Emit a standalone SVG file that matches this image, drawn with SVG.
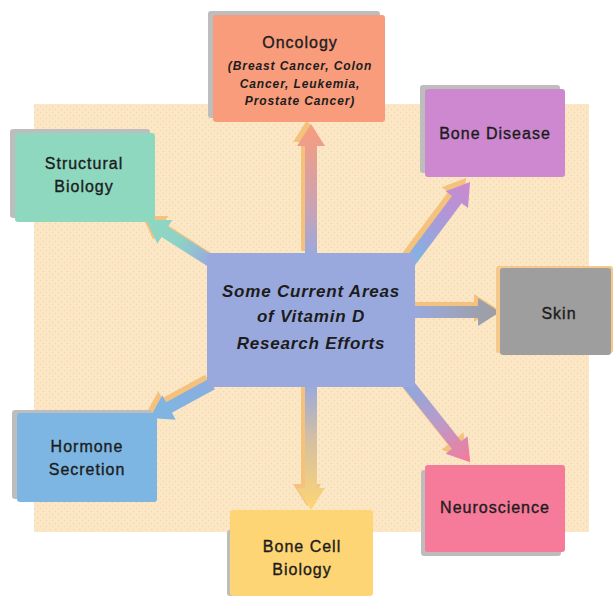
<svg xmlns="http://www.w3.org/2000/svg" width="613" height="598" viewBox="0 0 613 598">
<style>
.lbl{font-family:"Liberation Sans",Arial,sans-serif;font-size:16px;letter-spacing:1px;fill:#1c1c1c;stroke:#1c1c1c;stroke-width:0.35;text-anchor:middle}
.sub{font-family:"Liberation Sans",Arial,sans-serif;font-size:12px;font-weight:bold;font-style:italic;letter-spacing:0.9px;fill:#1c1c1c;text-anchor:middle}
.ctr{font-family:"Liberation Sans",Arial,sans-serif;font-size:17px;font-weight:bold;font-style:italic;letter-spacing:0.8px;fill:#1c1c1c;text-anchor:middle}
.sh{fill:#bdbdbd}
.ash{fill:#f4c27c}
</style>
<defs>
<pattern id="dots" width="6" height="6" patternUnits="userSpaceOnUse">
<rect width="6" height="6" fill="#fce7c5"/>
<circle cx="1.5" cy="1.5" r="0.7" fill="#f4d0bb"/>
<circle cx="4.5" cy="4.5" r="0.7" fill="#f4d3b5"/>
</pattern>
<linearGradient id="gOnc" x1="0" y1="0" x2="1" y2="0"><stop offset="0" stop-color="#9aa9dd"/><stop offset="0.35" stop-color="#c8a3b5"/><stop offset="1" stop-color="#f99c7c"/></linearGradient>
<linearGradient id="gStr" x1="0" y1="0" x2="1" y2="0"><stop offset="0" stop-color="#9aa9dd"/><stop offset="0.5" stop-color="#8ed2c6"/><stop offset="1" stop-color="#8ed8c0"/></linearGradient>
<linearGradient id="gBD" x1="0" y1="0" x2="1" y2="0"><stop offset="0" stop-color="#7db6e2"/><stop offset="0.5" stop-color="#a99ad8"/><stop offset="1" stop-color="#cd88cf"/></linearGradient>
<linearGradient id="gSkin" x1="0" y1="0" x2="1" y2="0"><stop offset="0" stop-color="#9aa9dd"/><stop offset="1" stop-color="#9e9e9e"/></linearGradient>
<linearGradient id="gNeu" x1="0" y1="0" x2="1" y2="0"><stop offset="0" stop-color="#8aa9df"/><stop offset="0.5" stop-color="#b79ccb"/><stop offset="1" stop-color="#f67a99"/></linearGradient>
<linearGradient id="gBC" x1="0" y1="0" x2="1" y2="0"><stop offset="0" stop-color="#9aa9dd"/><stop offset="0.45" stop-color="#d6c0a0"/><stop offset="1" stop-color="#fed574"/></linearGradient>
<linearGradient id="gHor" x1="0" y1="0" x2="1" y2="0"><stop offset="0" stop-color="#8aaee0"/><stop offset="1" stop-color="#7db6e2"/></linearGradient>
</defs>

<rect x="34" y="104" width="555" height="428" fill="url(#dots)"/>

<g id="connectors">
<g id="arrow-shadows">
<polygon class="ash" transform="translate(307,251) rotate(-90)" points="0,-6 109,-6 109,-14 131,0 109,14 109,6 0,6"/>
<polygon class="ash" transform="translate(208,258) rotate(212.5)" points="0,-6 56,-6 56,-14 78,0 56,14 56,6 0,6"/>
<polygon class="ash" transform="translate(406,258) rotate(-53.1)" points="0,-6 78,-6 78,-14 100,0 78,14 78,6 0,6"/>
<polygon class="ash" transform="translate(411,308) rotate(0)" points="0,-6 63,-6 63,-14 85,0 63,14 63,6 0,6"/>
<polygon class="ash" transform="translate(401,376) rotate(51.6)" points="0,-6 83,-6 83,-14 105,0 83,14 83,6 0,6"/>
<polygon class="ash" transform="translate(307,381) rotate(90)" points="0,-6 103,-6 103,-14 125,0 103,14 103,6 0,6"/>
<polygon class="ash" transform="translate(208,380) rotate(151.3)" points="0,-6 49,-6 49,-14 71,0 49,14 49,6 0,6"/>
</g>
<polygon fill="url(#gOnc)" transform="translate(311,255) rotate(-90)" points="0,-6 109,-6 109,-14 131,0 109,14 109,6 0,6"/>
<polygon fill="url(#gStr)" transform="translate(212,262) rotate(212.5)" points="0,-6 56,-6 56,-14 78,0 56,14 56,6 0,6"/>
<polygon fill="url(#gBD)" transform="translate(410,262) rotate(-53.1)" points="0,-6 78,-6 78,-14 100,0 78,14 78,6 0,6"/>
<polygon fill="url(#gSkin)" transform="translate(415,312) rotate(0)" points="0,-6 63,-6 63,-14 85,0 63,14 63,6 0,6"/>
<polygon fill="url(#gNeu)" transform="translate(405,380) rotate(51.6)" points="0,-6 83,-6 83,-14 105,0 83,14 83,6 0,6"/>
<polygon fill="url(#gBC)" transform="translate(311,385) rotate(90)" points="0,-6 103,-6 103,-14 125,0 103,14 103,6 0,6"/>
<polygon fill="url(#gHor)" transform="translate(212,384) rotate(151.3)" points="0,-6 49,-6 49,-14 71,0 49,14 49,6 0,6"/>
</g>

<g id="center">
<rect x="207" y="253" width="208" height="134" rx="3" fill="#9aa9dd"/>
<text class="ctr" x="311" y="297">Some Current Areas</text>
<text class="ctr" x="311" y="322">of Vitamin D</text>
<text class="ctr" x="311" y="349">Research Efforts</text>
</g>

<g id="oncology">
<rect class="sh" x="208" y="11" width="172" height="107" rx="3"/>
<rect x="213" y="15" width="172" height="107" rx="3" fill="#f99c7c"/>
<text class="lbl" x="300" y="48">Oncology</text>
<text class="sub" x="300" y="70">(Breast Cancer, Colon</text>
<text class="sub" x="300" y="88">Cancer, Leukemia,</text>
<text class="sub" x="300" y="105">Prostate Cancer)</text>
</g>

<g id="structural-biology">
<rect class="sh" x="10" y="129" width="140" height="89" rx="3"/>
<rect x="15" y="133" width="140" height="89" rx="3" fill="#8ed8c0"/>
<text class="lbl" x="84" y="169">Structural</text>
<text class="lbl" x="84" y="192">Biology</text>
</g>

<g id="bone-disease">
<rect class="sh" x="420" y="85" width="140" height="88" rx="3"/>
<rect x="425" y="89" width="140" height="88" rx="3" fill="#cd88cf"/>
<text class="lbl" x="495" y="139">Bone Disease</text>
</g>

<g id="skin">
<rect x="496" y="266" width="117" height="87" rx="3" fill="#f5c98a"/>
<rect x="500" y="268" width="111" height="87" rx="3" fill="#9e9e9e"/>
<text class="lbl" x="559" y="319">Skin</text>
</g>

<g id="neuroscience">
<rect class="sh" x="421" y="470" width="140" height="86" rx="3"/>
<rect x="425" y="465" width="140" height="87" rx="3" fill="#f67a99"/>
<text class="lbl" x="495" y="513">Neuroscience</text>
</g>

<g id="hormone-secretion">
<rect class="sh" x="12" y="410" width="140" height="89" rx="3"/>
<rect x="17" y="413" width="140" height="89" rx="3" fill="#7db6e2"/>
<text class="lbl" x="87" y="452">Hormone</text>
<text class="lbl" x="87" y="475">Secretion</text>
</g>

<g id="bone-cell-biology">
<rect class="sh" x="227" y="530" width="140" height="66" rx="3"/>
<rect x="230" y="510" width="143" height="86" rx="3" fill="#fed574"/>
<text class="lbl" x="302" y="552">Bone Cell</text>
<text class="lbl" x="302" y="575">Biology</text>
</g>
</svg>
